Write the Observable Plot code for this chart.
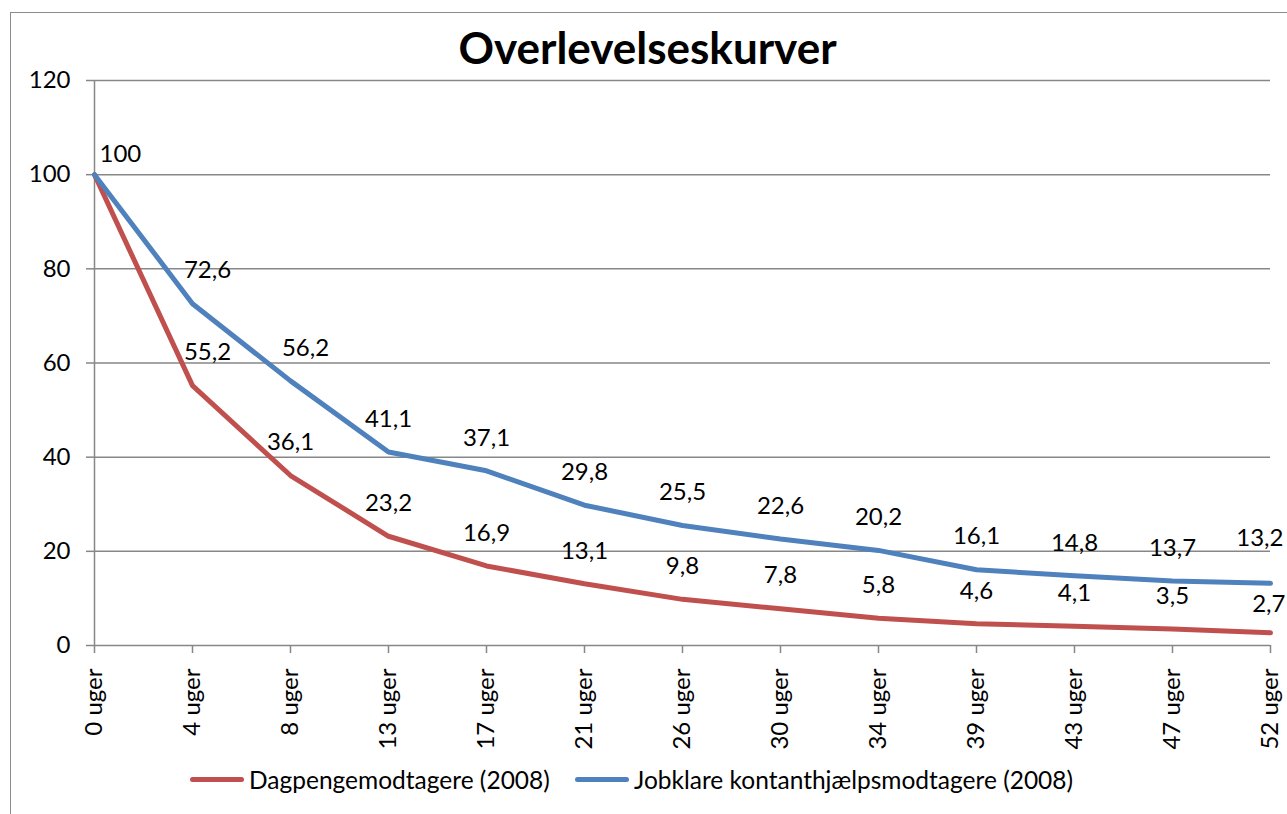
<!DOCTYPE html>
<html>
<head>
<meta charset="utf-8">
<script src="https://cdn.jsdelivr.net/npm/d3@7"></script>
<script src="https://cdn.jsdelivr.net/npm/@observablehq/plot@0.6"></script>
<style>
  html, body { margin: 0; padding: 0; background: #fff; }
  #wrap { position: relative; width: 1287px; height: 814px; overflow: hidden; font-family: Lato, "Open Sans", sans-serif; }
  #frame { position: absolute; left: 10px; top: 12px; width: 1300px; height: 830px; border: 1.5px solid #8c8c8c; box-sizing: border-box; }
  #title { position: absolute; left: 0; width: 1295px; top: 19px; text-align: center; font-weight: bold; font-size: 44px; line-height: 56px; color: #000; }
  #chart { position: absolute; left: 0; top: 60px; }
  #legend { position: absolute; top: 765px; left: 0; width: 1287px; font-size: 24.5px; color: #000; }
  .item { position: absolute; display: flex; align-items: center; white-space: nowrap; }
  .swatch { width: 54px; height: 5px; border-radius: 2.5px; margin-right: 5px; }
</style>
</head>
<body>
<div id="wrap">
  <div id="frame"></div>
  <div id="title">Overlevelseskurver</div>
  <div id="chart"></div>
  <div id="legend"></div>
</div>
<script>
const weeks = ["0 uger","4 uger","8 uger","13 uger","17 uger","21 uger","26 uger","30 uger","34 uger","39 uger","43 uger","47 uger","52 uger"];
const dagpenge = [100,55.2,36.1,23.2,16.9,13.1,9.8,7.8,5.8,4.6,4.1,3.5,2.7];
const jobklare = [100,72.6,56.2,41.1,37.1,29.8,25.5,22.6,20.2,16.1,14.8,13.7,13.2];
const seriesNames = ["Dagpengemodtagere (2008)", "Jobklare kontanthjælpsmodtagere (2008)"];
const seriesColors = ["#C0504D", "#4F81BD"];
const yTicks = [0,20,40,60,80,100,120];

const rows = [];
[dagpenge, jobklare].forEach((vals, s) => {
  vals.forEach((v, i) => rows.push({series: seriesNames[s], week: weeks[i], value: v, idx: i, s}));
});
const fmt = v => String(v).replace(".", ",");
const last = weeks.length - 1;

// Excel-style manual nudges of a few data labels
const nudgedRight = d => (d.s === 1 && (d.idx === 1 || d.idx === 2)) || (d.s === 0 && d.idx === 1);
const nudgedLeft = d => d.idx === last;
const labelRows = rows.filter(d => !(d.idx === 0 && d.s === 0));
const firstLabel = labelRows.filter(d => d.idx === 0);
const plainLabels = labelRows.filter(d => d.idx !== 0 && !nudgedRight(d) && !nudgedLeft(d));
const rightLabels = labelRows.filter(nudgedRight);
const endBlue = labelRows.filter(d => nudgedLeft(d) && d.s === 1);
const endRed = labelRows.filter(d => nudgedLeft(d) && d.s === 0);
const labelFont = 24;

const chart = Plot.plot({
  width: 1287,
  height: 700,
  marginTop: 20,
  marginBottom: 115,
  marginLeft: 94,
  marginRight: 17,
  style: {fontFamily: 'Lato, "Open Sans", sans-serif', background: "transparent", overflow: "visible"},
  x: {type: "point", domain: weeks, padding: 0, range: [94, 1270], label: null},
  y: {domain: [0, 120], label: null},
  color: {domain: seriesNames, range: seriesColors},
  marks: [
    Plot.ruleY(yTicks, {stroke: "#878787", strokeWidth: 1.5}),
    Plot.ruleX([weeks[0]], {y1: 0, y2: 120, stroke: "#878787", strokeWidth: 1.5}),
    Plot.axisY({ticks: yTicks, tickSize: 8, tickPadding: 16, fontSize: 24, stroke: "#878787", strokeWidth: 1.5, label: null, tickFormat: d => d}),
    Plot.axisX({tickSize: 8, tickPadding: 15, tickRotate: -90, fontSize: 24, stroke: "#878787", strokeWidth: 1.5, label: null}),
    Plot.line(rows.filter(d => d.s === 0), {x: "week", y: "value", stroke: "series", strokeWidth: 5, strokeLinejoin: "round", strokeLinecap: "round"}),
    Plot.line(rows.filter(d => d.s === 1), {x: "week", y: "value", stroke: "series", strokeWidth: 5, strokeLinejoin: "round", strokeLinecap: "round"}),
    Plot.text(firstLabel, {x: "week", y: "value", text: d => fmt(d.value), textAnchor: "start", dx: 5, dy: -20, fontSize: labelFont, fill: "#000"}),
    Plot.text(plainLabels, {x: "week", y: "value", text: d => fmt(d.value), dy: -33, fontSize: labelFont, fill: "#000"}),
    Plot.text(rightLabels, {x: "week", y: "value", text: d => fmt(d.value), dx: 15, dy: -33, fontSize: labelFont, fill: "#000"}),
    Plot.text(endBlue, {x: "week", y: "value", text: d => fmt(d.value), textAnchor: "end", dx: 13, dy: -45, fontSize: labelFont, fill: "#000"}),
    Plot.text(endRed, {x: "week", y: "value", text: d => fmt(d.value), textAnchor: "end", dx: 15, dy: -28, fontSize: labelFont, fill: "#000"})
  ]
});
document.getElementById("chart").appendChild(chart);

const legend = document.getElementById("legend");
const lefts = [190, 575];
seriesNames.forEach((n, i) => {
  const it = document.createElement("div");
  it.className = "item";
  it.style.left = lefts[i] + "px";
  const sw = document.createElement("div");
  sw.className = "swatch";
  sw.style.background = seriesColors[i];
  const tx = document.createElement("span");
  tx.textContent = n;
  it.appendChild(sw); it.appendChild(tx);
  legend.appendChild(it);
});
</script>
</body>
</html>
